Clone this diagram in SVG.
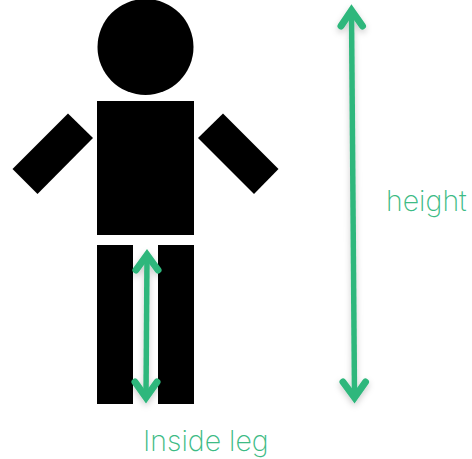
<svg xmlns="http://www.w3.org/2000/svg" width="472" height="459" viewBox="0 0 472 459">
<style>
.body{fill:#000}
.shaft{fill:none;stroke:#2fb77c;stroke-width:5.500}
.head{fill:none;stroke:#2fb77c;stroke-width:7;stroke-linecap:round;stroke-linejoin:miter}
.label{font-family:"Inter","Open Sans",sans-serif;font-weight:200;font-size:28.500px;fill:#3dbb85}
</style>
<defs>
<filter id="shadow" x="-100%" y="-10%" width="300%" height="120%">
<feDropShadow dx="0" dy="3" stdDeviation="3" flood-color="#000" flood-opacity="0.2"/>
</filter>
</defs>
<g id="head"><circle class="body" cx="145.500" cy="47" r="48"/></g>
<g id="torso"><rect class="body" x="97" y="101" width="97" height="134"/></g>
<g id="left-arm"><polygon class="body" points="68,113.500 93,138 37.500,194 12.500,169"/></g>
<g id="right-arm"><polygon class="body" points="223,113.500 198,138 254,194 278.500,169"/></g>
<g id="left-leg"><rect class="body" x="97" y="245" width="36" height="159"/></g>
<g id="right-leg"><rect class="body" x="158" y="245" width="36" height="159"/></g>
<g id="connectors" filter="url(#shadow)">
<path class="shaft" d="M351.500 12L354.500 396"/>
<path class="head" d="M341 26L351.500 10.500L362.500 26M343 382L354.500 397.500L365.500 382"/>
<path class="shaft" d="M147 257L146 396"/>
<path class="head" d="M136 270L147 255L158 270M135 382L146 397.500L157 382"/>
</g>
<g id="label-height"><text class="label" x="386" y="211">height</text></g>
<g id="label-inside-leg"><text class="label" x="143" y="451">Inside leg</text></g>
</svg>
